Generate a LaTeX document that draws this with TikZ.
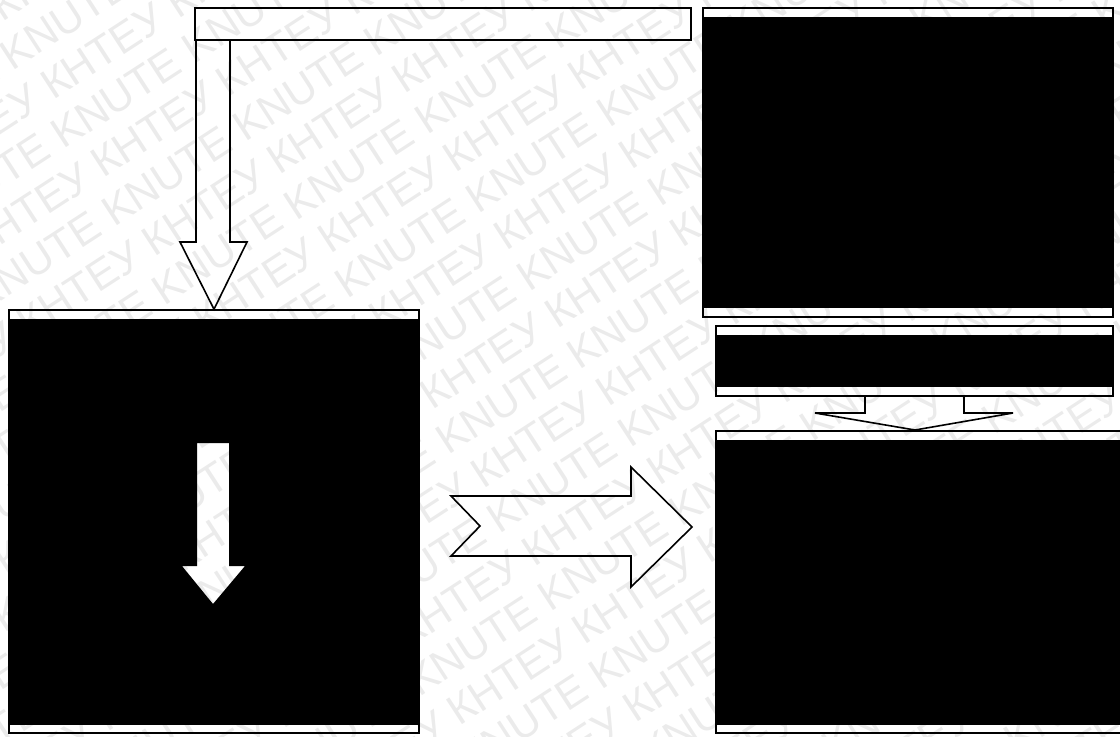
\documentclass[tikz,border=0pt]{standalone}
\usepackage{fontspec}
\newfontfamily\wmfont{Liberation Sans}
\usetikzlibrary{calc}
\begin{document}
\begin{tikzpicture}[x=0.75pt,y=-0.75pt,
  outline/.style={draw=black, line width=1.2pt, line join=miter},
  box/.style={outline, rectangle, inner sep=0pt},
  wm/.style={font=\wmfont\fontsize{32}{32}\selectfont, text=black!8, inner sep=0pt}]
\useasboundingbox (0,0) rectangle (1120,736);
\clip (0,0) rectangle (1120,736);
% watermark
\begin{scope}[x=1pt,y=1pt,shift={(7.5,-54.75)},rotate=33]
 \foreach \k in {-13,...,1}{
  \node[wm,anchor=base west,transform shape] (wa\k) at (-350,{2*\k*35}) {KNUTE KNUTE KNUTE KNUTE KNUTE KNUTE KNUTE KNUTE KNUTE KNUTE KNUTE};
  \node[wm,anchor=base west,transform shape] (wb\k) at (-320,{(2*\k-1)*35}) {КНТЕУ КНТЕУ КНТЕУ КНТЕУ КНТЕУ КНТЕУ КНТЕУ КНТЕУ КНТЕУ КНТЕУ КНТЕУ};
 }
\end{scope}
% boxes
\node[box, minimum width=372pt, minimum height=24pt] (Bar) at (443,24) {};
\node[box, minimum width=307.5pt, minimum height=317.25pt] (L) at (214,521.5) {};
\node[box, minimum width=307.5pt, minimum height=231.75pt] (TR) at (908,162.5) {};
\node[box, minimum width=297.75pt, minimum height=52.5pt] (M) at (914.5,361) {};
\node[box, minimum width=310.5pt, minimum height=226.5pt] (BR) at (923,582) {};
% black bands
\fill[even odd rule] ([yshift=-7.5pt]L.north west) rectangle ([yshift=6.75pt]L.south east)
  (197,443) -- (197,566) -- (182,566) -- (213,604) -- (245,566) -- (229,566) -- (229,443) -- cycle;
\fill ([yshift=-7.5pt]TR.north west) rectangle ([yshift=7.5pt]TR.south east);
\fill ([yshift=-7.5pt]M.north west) rectangle ([yshift=7.5pt]M.south east);
\fill ([yshift=-7.5pt]BR.north west) rectangle ([yshift=6.75pt]BR.south east);
% block arrows
\draw[outline] (196,40) -- (196,242) -- (180,242) -- (L.north) -- (247,242) -- (230,242) -- (230,40);
\draw[outline] (451,496) -- (631,496) -- (631,467) -- (692,527) -- (631,587) -- (631,556) -- (451,556) -- (480,526) -- cycle;
\draw[outline] (865,396) -- (865,413) -- (815,413) -- (915,430) -- (1013,413) -- (964,413) -- (964,396);
\end{tikzpicture}
\end{document}
